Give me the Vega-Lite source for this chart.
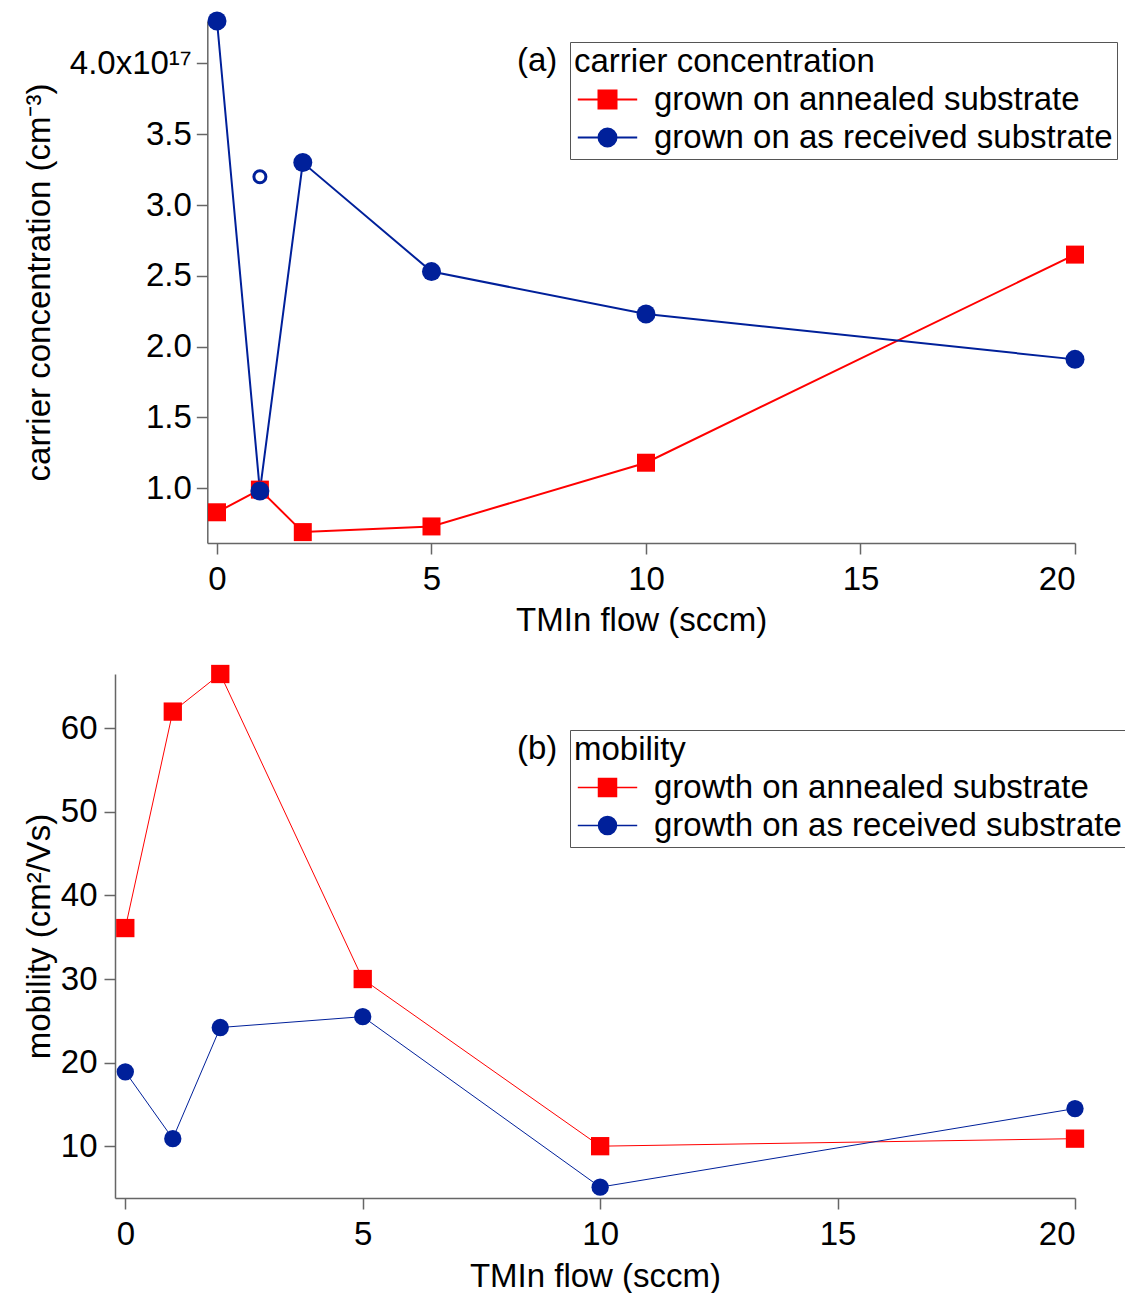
{
  "$schema": "https://vega.github.io/schema/vega-lite/v6.json",
  "background": "white",
  "padding": {"left": 23, "top": 11, "right": 0, "bottom": 0},
  "spacing": 27,
  "resolve": {
    "scale": {"x": "independent", "y": "independent", "color": "independent"},
    "legend": {"color": "independent"},
    "axis": {"x": "independent", "y": "independent"}
  },
  "config": {
    "font": "Liberation Sans",
    "view": {"stroke": null},
    "axis": {
      "grid": false,
      "domainColor": "#666666",
      "domainWidth": 1.5,
      "tickColor": "#666666",
      "tickWidth": 1.5,
      "tickSize": 11,
      "labelFont": "Liberation Sans",
      "labelFontSize": 33,
      "labelColor": "black",
      "titleFont": "Liberation Sans",
      "titleFontSize": 33,
      "titleFontWeight": "normal",
      "titleColor": "black"
    },
    "legend": {
      "orient": "none",
      "direction": "vertical",
      "titleFont": "Liberation Sans",
      "titleFontSize": 33,
      "titleFontWeight": "normal",
      "titleColor": "black",
      "titlePadding": 4,
      "titleLimit": 0,
      "labelFont": "Liberation Sans",
      "labelFontSize": 33,
      "labelColor": "black",
      "labelLimit": 0,
      "padding": 4,
      "strokeColor": "#555555",
      "rowPadding": 4,
      "symbolOffset": 17,
      "labelOffset": 30
    },
    "title": {
      "font": "Liberation Sans",
      "fontSize": 33,
      "fontWeight": "normal",
      "color": "black"
    }
  },
  "datasets": {
    "concentration": [
      {"flow": 0, "substrate": "grown on annealed substrate", "conc": 0.83e17},
      {"flow": 1, "substrate": "grown on annealed substrate", "conc": 0.99e17},
      {"flow": 2, "substrate": "grown on annealed substrate", "conc": 0.69e17},
      {"flow": 5, "substrate": "grown on annealed substrate", "conc": 0.73e17},
      {"flow": 10, "substrate": "grown on annealed substrate", "conc": 1.18e17},
      {"flow": 20, "substrate": "grown on annealed substrate", "conc": 2.65e17},
      {"flow": 0, "substrate": "grown on as received substrate", "conc": 4.30e17},
      {"flow": 1, "substrate": "grown on as received substrate", "conc": 0.98e17},
      {"flow": 2, "substrate": "grown on as received substrate", "conc": 3.30e17},
      {"flow": 5, "substrate": "grown on as received substrate", "conc": 2.53e17},
      {"flow": 10, "substrate": "grown on as received substrate", "conc": 2.23e17},
      {"flow": 20, "substrate": "grown on as received substrate", "conc": 1.91e17}
    ],
    "concentration_extra": [
      {"flow": 1, "conc": 3.20e17}
    ],
    "mobility": [
      {"flow": 0, "substrate": "growth on annealed substrate", "mobility": 36.1},
      {"flow": 1, "substrate": "growth on annealed substrate", "mobility": 62.0},
      {"flow": 2, "substrate": "growth on annealed substrate", "mobility": 66.5},
      {"flow": 5, "substrate": "growth on annealed substrate", "mobility": 30.0},
      {"flow": 10, "substrate": "growth on annealed substrate", "mobility": 10.0},
      {"flow": 20, "substrate": "growth on annealed substrate", "mobility": 10.9},
      {"flow": 0, "substrate": "growth on as received substrate", "mobility": 18.9},
      {"flow": 1, "substrate": "growth on as received substrate", "mobility": 10.9},
      {"flow": 2, "substrate": "growth on as received substrate", "mobility": 24.2},
      {"flow": 5, "substrate": "growth on as received substrate", "mobility": 25.5},
      {"flow": 10, "substrate": "growth on as received substrate", "mobility": 5.1},
      {"flow": 20, "substrate": "growth on as received substrate", "mobility": 14.5}
    ]
  },
  "vconcat": [
    {
      "width": 960,
      "height": 522,
      "title": {"text": "(a)", "anchor": "start", "frame": "group", "orient": "top", "offset": 0, "baseline": "middle", "dx": 402, "dy": 82},
      "encoding": {
        "x": {
          "field": "flow", "type": "quantitative",
          "scale": {"domain": [-0.226, 20], "range": [92.3, 960], "nice": false, "zero": false},
          "axis": {"title": "TMIn flow (sccm)", "values": [0, 5, 10, 15, 20], "labelPadding": 9, "titlePadding": 8}
        },
        "y": {
          "field": "conc", "type": "quantitative",
          "scale": {"domain": [0.613e17, 4.3e17], "nice": false, "zero": false},
          "axis": {
            "title": "carrier concentration (cm⁻³)",
            "values": [1e17, 1.5e17, 2e17, 2.5e17, 3e17, 3.5e17, 4e17],
            "labelExpr": "datum.value > 3.99e17 ? '4.0x10¹⁷' : format(datum.value / 1e17, '.1f')",
            "labelPadding": 5,
            "offset": -92.3,
            "titleX": -151
          }
        }
      },
      "layer": [
        {
          "data": {"name": "concentration"},
          "mark": {"type": "line", "strokeWidth": 2},
          "encoding": {
            "color": {
              "field": "substrate", "type": "nominal",
              "scale": {"domain": ["grown on annealed substrate", "grown on as received substrate"], "range": ["#ff0000", "#00209a"]},
              "legend": {
                "title": "carrier concentration",
                "legendX": 455,
                "legendY": 21,
                "encode": {
                  "symbols": {
                    "update": {
                      "shape": {"signal": "datum.value === 'grown on annealed substrate' ? 'M-3.3,0H3.3M-1,-1H1V1H-1Z' : 'M-3.3,0H3.3M-1,0A1,1 0 1,0 1,0A1,1 0 1,0 -1,0Z'"},
                      "strokeWidth": {"value": 2},
                      "size": {"value": 324},
                      "opacity": {"value": 1}
                    }
                  }
                }
              }
            }
          }
        },
        {
          "data": {"name": "concentration"},
          "transform": [{"filter": "datum.substrate === 'grown on annealed substrate'"}],
          "mark": {"type": "point", "filled": true, "opacity": 1, "shape": "square", "size": 324},
          "encoding": {"color": {"field": "substrate", "type": "nominal"}}
        },
        {
          "data": {"name": "concentration"},
          "transform": [{"filter": "datum.substrate === 'grown on as received substrate'"}],
          "mark": {"type": "point", "filled": true, "opacity": 1, "shape": "circle", "size": 361},
          "encoding": {"color": {"field": "substrate", "type": "nominal"}}
        },
        {
          "data": {"name": "concentration_extra"},
          "mark": {"type": "point", "filled": false, "shape": "circle", "size": 144, "strokeWidth": 3, "color": "#00209a", "opacity": 1}
        }
      ]
    },
    {
      "width": 960,
      "height": 524,
      "title": {"text": "(b)", "anchor": "start", "frame": "group", "orient": "top", "offset": 0, "baseline": "middle", "dx": 402, "dy": 117},
      "encoding": {
        "x": {
          "field": "flow", "type": "quantitative",
          "scale": {"domain": [-0.217, 20], "nice": false, "zero": false},
          "axis": {"title": "TMIn flow (sccm)", "values": [0, 5, 10, 15, 20], "labelPadding": 9, "titlePadding": 9}
        },
        "y": {
          "field": "mobility", "type": "quantitative",
          "scale": {"domain": [3.8, 66.5], "nice": false, "zero": false},
          "axis": {
            "title": "mobility (cm²/Vs)",
            "values": [10, 20, 30, 40, 50, 60],
            "labelPadding": 7,
            "titleX": -58.7
          }
        }
      },
      "layer": [
        {
          "data": {"name": "mobility"},
          "mark": {"type": "line", "strokeWidth": 1},
          "encoding": {
            "color": {
              "field": "substrate", "type": "nominal",
              "scale": {"domain": ["growth on annealed substrate", "growth on as received substrate"], "range": ["#ff0000", "#00209a"]},
              "legend": {
                "title": "mobility",
                "legendX": 455,
                "legendY": 56,
                "encode": {
                  "symbols": {
                    "update": {
                      "shape": {"signal": "datum.value === 'growth on annealed substrate' ? 'M-3.3,0H3.3M-1,-1H1V1H-1Z' : 'M-3.3,0H3.3M-1,0A1,1 0 1,0 1,0A1,1 0 1,0 -1,0Z'"},
                      "strokeWidth": {"value": 1.5},
                      "size": {"value": 324},
                      "opacity": {"value": 1}
                    }
                  }
                }
              }
            }
          }
        },
        {
          "data": {"name": "mobility"},
          "transform": [{"filter": "datum.substrate === 'growth on annealed substrate'"}],
          "mark": {"type": "point", "filled": true, "opacity": 1, "shape": "square", "size": 335},
          "encoding": {"color": {"field": "substrate", "type": "nominal"}}
        },
        {
          "data": {"name": "mobility"},
          "transform": [{"filter": "datum.substrate === 'growth on as received substrate'"}],
          "mark": {"type": "point", "filled": true, "opacity": 1, "shape": "circle", "size": 300},
          "encoding": {"color": {"field": "substrate", "type": "nominal"}}
        }
      ]
    }
  ]
}
